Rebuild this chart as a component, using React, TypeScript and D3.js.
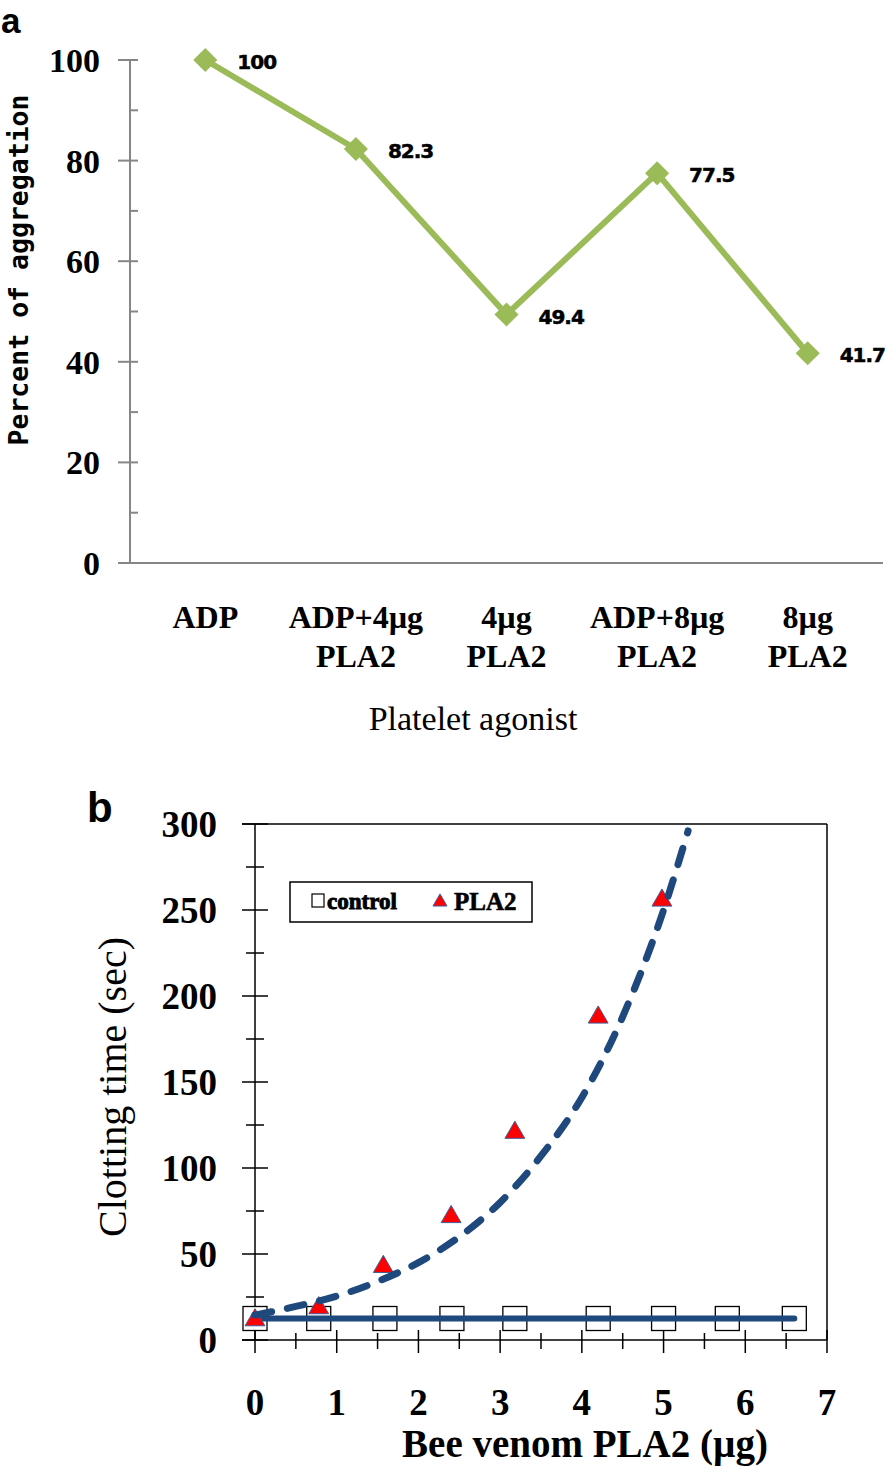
import * as d3 from "d3";

// panel a: platelet aggregation
const agonists = ["ADP", "ADP+4µg\nPLA2", "4µg\nPLA2", "ADP+8µg\nPLA2", "8µg\nPLA2"];
const aggregation = [100, 82.3, 49.4, 77.5, 41.7];
const aggTicks = [0, 20, 40, 60, 80, 100];
const aggMinor = [10, 30, 50, 70, 90];

// panel b: clotting time
const controlDose = [0, 0.78, 1.59, 2.41, 3.18, 4.2, 5.0, 5.78, 6.6];
const controlTime = [12.5, 12.5, 12.5, 12.5, 12.5, 12.5, 12.5, 12.5, 12.5];
const plaDose = [0, 0.78, 1.57, 2.4, 3.18, 4.2, 4.98];
const plaTime = [11, 18, 42, 71, 120, 187, 255];
const trendDose = [0, 0.5, 1, 1.5, 2, 2.5, 3, 3.5, 4, 4.5, 5, 5.3];
const trendTime = [14.5, 19.5, 25.5, 34, 45, 60, 80, 107, 141, 188, 250, 296];
const doseTicks = [0, 1, 2, 3, 4, 5, 6, 7];
const doseMinor = [0.5, 1.5, 2.5, 3.5, 4.5, 5.5, 6.5];
const timeTicks = [0, 50, 100, 150, 200, 250, 300];
const timeMinor = [25, 75, 125, 175, 225, 275];

const serif = "'Liberation Serif', 'Times New Roman', serif";
const green = "#9BBB59";
const navy = "#1F497D";
const grey = "#868686";

const PanelA = () => {
  const x = d3.scalePoint<number>().domain(d3.range(agonists.length)).range([130, 883]).padding(0.5);
  const y = d3.scaleLinear().domain([0, 100]).range([563, 60]);
  const line = d3
    .line<number>()
    .x((_, i) => x(i)!)
    .y((v) => y(v));
  const diamond = d3.symbol(d3.symbolSquare, 290)();
  return (
    <g>
      <text x={1} y={33} fontFamily="'Liberation Sans', Arial, sans-serif" fontWeight="bold" fontSize={35}>
        a
      </text>
      {/* axes */}
      <line x1={130} x2={130} y1={y(100)} y2={y(0)} stroke={grey} strokeWidth={2} />
      <line x1={118} x2={883} y1={y(0)} y2={y(0)} stroke={grey} strokeWidth={2} />
      {aggTicks.map((t) => (
        <g key={t}>
          <line x1={118} x2={138} y1={y(t)} y2={y(t)} stroke={grey} strokeWidth={2} />
          <text x={100} y={y(t)} dy="0.35em" textAnchor="end" fontFamily={serif} fontWeight="bold" fontSize={34}>
            {t}
          </text>
        </g>
      ))}
      {aggMinor.map((t) => (
        <line key={t} x1={130} x2={138} y1={y(t)} y2={y(t)} stroke={grey} strokeWidth={2} />
      ))}
      <text
        transform={`translate(28,270) rotate(-90)`}
        textAnchor="middle"
        fontFamily="'DejaVu Sans Mono', monospace"
        fontWeight="bold"
        fontSize={26.5}
      >
        Percent of aggregation
      </text>
      {/* category labels */}
      {agonists.map((c, i) =>
        c.split("\n").map((s, j) => (
          <text
            key={`${i}-${j}`}
            x={x(i)}
            y={628 + j * 39}
            textAnchor="middle"
            fontFamily={serif}
            fontWeight="bold"
            fontSize={32}
          >
            {s}
          </text>
        ))
      )}
      <text x={473} y={730} textAnchor="middle" fontFamily={serif} fontSize={34}>
        Platelet agonist
      </text>
      {/* series */}
      <path d={line(aggregation)!} fill="none" stroke={green} strokeWidth={6} />
      {aggregation.map((v, i) => (
        <g key={i}>
          <path d={diamond!} transform={`translate(${x(i)},${y(v)}) rotate(45)`} fill={green} />
          <text
            x={x(i)! + 32}
            y={y(v) + 2}
            dy="0.35em"
            fontFamily="'DejaVu Sans', Verdana, sans-serif"
            fontWeight="bold"
            fontSize={20}
            letterSpacing={-1}
            stroke="#000"
            strokeWidth={0.5}
          >
            {v}
          </text>
        </g>
      ))}
    </g>
  );
};

const PanelB = () => {
  const x = d3.scaleLinear().domain([0, 7]).range([255, 827]);
  const y = d3.scaleLinear().domain([0, 300]).range([1340, 824]);
  const controlLine = d3
    .line<number>()
    .x((_, i) => x(controlDose[i]))
    .y((v) => y(v));
  const trendLine = d3
    .line<number>()
    .x((_, i) => x(trendDose[i]))
    .y((v) => y(v))
    .curve(d3.curveMonotoneX);
  const tri = d3.symbol(d3.symbolTriangle, 170)();
  const legendTri = d3.symbol(d3.symbolTriangle, 85)();
  return (
    <g>
      <text x={87} y={822} fontFamily="'Liberation Sans', Arial, sans-serif" fontWeight="bold" fontSize={42}>
        b
      </text>
      {/* frame */}
      <line x1={242} x2={x(7)} y1={y(300)} y2={y(300)} stroke="#000" strokeWidth={1.5} />
      <line x1={242} x2={x(7)} y1={y(0)} y2={y(0)} stroke="#000" strokeWidth={1.5} />
      <line x1={x(0)} x2={x(0)} y1={y(300)} y2={y(0)} stroke="#000" strokeWidth={1.5} />
      <line x1={x(7)} x2={x(7)} y1={y(300)} y2={y(0)} stroke="#000" strokeWidth={1.5} />
      {timeTicks.map((t) => (
        <g key={t}>
          <line x1={242} x2={268} y1={y(t)} y2={y(t)} stroke="#000" strokeWidth={1.5} />
          <text x={217} y={y(t)} dy="0.35em" textAnchor="end" fontFamily={serif} fontWeight="bold" fontSize={37}>
            {t}
          </text>
        </g>
      ))}
      {timeMinor.map((t) => (
        <line key={t} x1={246} x2={264} y1={y(t)} y2={y(t)} stroke="#000" strokeWidth={1.5} />
      ))}
      {doseTicks.map((t) => (
        <g key={t}>
          <line x1={x(t)} x2={x(t)} y1={y(0) - 10} y2={y(0) + 13} stroke="#000" strokeWidth={1.5} />
          <text x={x(t)} y={1415} textAnchor="middle" fontFamily={serif} fontWeight="bold" fontSize={37}>
            {t}
          </text>
        </g>
      ))}
      {doseMinor.map((t) => (
        <line key={t} x1={x(t)} x2={x(t)} y1={y(0) - 7} y2={y(0) + 9} stroke="#000" strokeWidth={1.5} />
      ))}
      <text x={585} y={1457} textAnchor="middle" fontFamily={serif} fontWeight="bold" fontSize={39}>
        Bee venom PLA2 (µg)
      </text>
      <text transform="translate(126,1087) rotate(-90)" textAnchor="middle" fontFamily={serif} fontSize={40}>
        Clotting time (sec)
      </text>
      {/* control */}
      {controlTime.map((v, i) => (
        <rect
          key={i}
          x={x(controlDose[i]) - 12}
          y={y(v) - 12}
          width={24}
          height={24}
          fill="#fff"
          stroke="#000"
          strokeWidth={1.3}
        />
      ))}
      <path d={controlLine(controlTime)!} fill="none" stroke={navy} strokeWidth={6} strokeLinecap="round" />
      {/* PLA2 */}
      {plaTime.map((v, i) => (
        <path
          key={i}
          d={tri!}
          transform={`translate(${x(plaDose[i])},${y(v) - 1})`}
          fill="#FF0000"
          stroke="#3F5C9A"
          strokeWidth={1}
        />
      ))}
      <path
        d={trendLine(trendTime)!}
        fill="none"
        stroke={navy}
        strokeWidth={7}
        strokeLinecap="round"
        strokeDasharray="17 16"
      />
      {/* legend */}
      <rect x={290} y={882} width={242} height={40} fill="#fff" stroke="#000" strokeWidth={1.5} />
      <rect x={312} y={894} width={12} height={13} fill="#fff" stroke="#000" strokeWidth={1.2} />
      <text x={327} y={909} fontFamily={serif} fontWeight="bold" fontSize={23} stroke="#000" strokeWidth={0.9}>
        control
      </text>
      <path d={legendTri!} transform="translate(440,902)" fill="#FF0000" stroke="#3F5C9A" strokeWidth={1} />
      <text x={454} y={910} fontFamily={serif} fontWeight="bold" fontSize={25} stroke="#000" strokeWidth={0.6}>
        PLA2
      </text>
    </g>
  );
};

export default function App() {
  return (
    <svg
      width={894}
      height={1469}
      style={{ position: "absolute", left: 0, top: 0, background: "#fff" }}
    >
      <rect width={894} height={1469} fill="#fff" />
      <PanelA />
      <PanelB />
    </svg>
  );
}
